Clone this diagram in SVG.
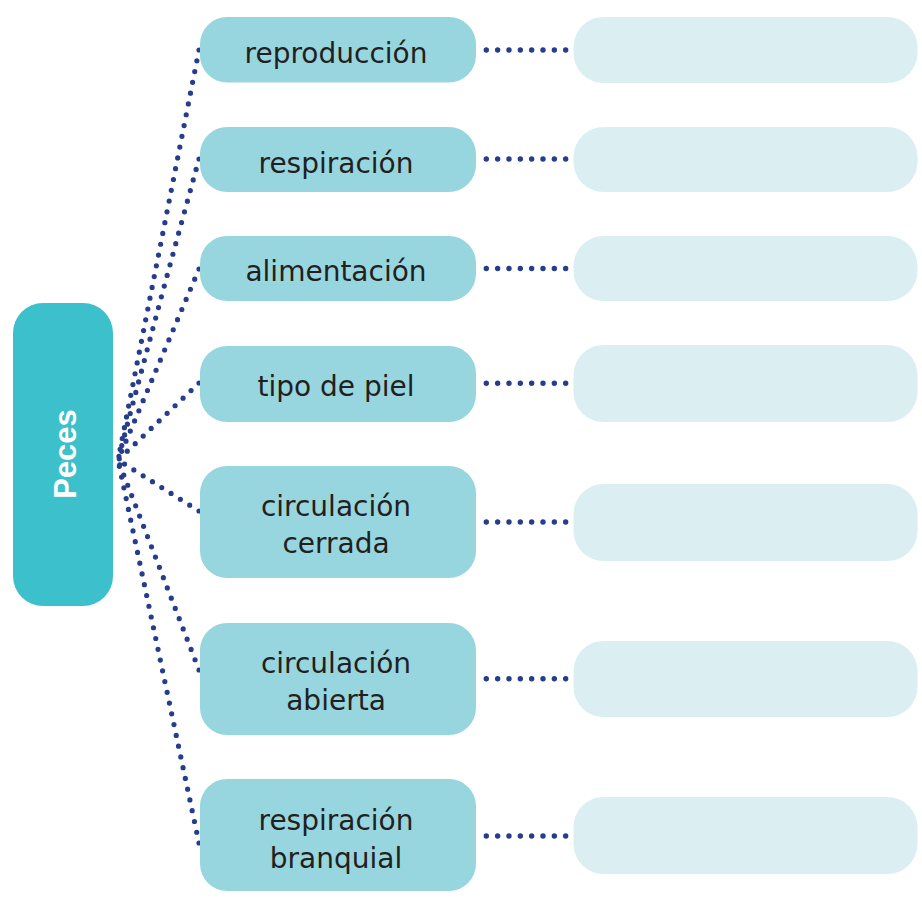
<svg xmlns="http://www.w3.org/2000/svg" width="922" height="898" viewBox="0 0 922 898">
<style>
.mid{fill:#97d6df}
.ans{fill:#dbeff2}
.main{fill:#3cc0cc}
.lbl{font-family:"DejaVu Sans","Liberation Sans",sans-serif;font-size:28px;fill:#231f20;text-anchor:middle}
.title{font-family:"Liberation Sans","Arial",sans-serif;font-size:31px;font-weight:bold;fill:#ffffff;text-anchor:middle}
.dot{fill:none;stroke:#263d8e;stroke-width:5.2;stroke-linecap:round;stroke-dasharray:0 11}
.hdot{fill:none;stroke:#263d8e;stroke-width:5.4;stroke-linecap:round;stroke-dasharray:0 11.34}
</style>
<rect width="922" height="898" fill="#ffffff"/>
<g id="connectors">
<path class="dot" d="M199,50 L118,460"/>
<path class="dot" d="M199,159 Q160,300 118,460"/>
<path class="dot" d="M199,269 L118,460"/>
<path class="dot" d="M199,383 L118,460"/>
<path class="dot" d="M199,511 L118,460"/>
<path class="dot" d="M199,670 L118,460"/>
<path class="dot" d="M199,843 L118,460"/>
<path class="hdot" d="M486.3,50 H565.7"/>
<path class="hdot" d="M486.3,159 H565.7"/>
<path class="hdot" d="M486.3,268.5 H565.7"/>
<path class="hdot" d="M486.3,383.3 H565.7"/>
<path class="hdot" d="M486.3,522 H565.7"/>
<path class="hdot" d="M486.3,678.7 H565.7"/>
<path class="hdot" d="M486.3,836 H565.7"/>
</g>
<g id="peces">
<rect class="main" x="13" y="303" width="100" height="303" rx="30"/>
<text class="title" x="76" y="454" transform="rotate(-90 76 454)">Peces</text>
</g>
<g id="n-reproduccion">
<rect class="mid" x="200" y="17" width="276" height="65.5" rx="27"/>
<text class="lbl" x="336" y="63">reproducción</text>
</g>
<g id="n-respiracion">
<rect class="mid" x="200" y="127" width="276" height="65" rx="27"/>
<text class="lbl" x="336" y="172.5">respiración</text>
</g>
<g id="n-alimentacion">
<rect class="mid" x="200" y="236" width="276" height="65" rx="27"/>
<text class="lbl" x="336" y="281">alimentación</text>
</g>
<g id="n-tipo-piel">
<rect class="mid" x="200" y="346" width="276" height="76" rx="27"/>
<text class="lbl" x="336" y="396">tipo de piel</text>
</g>
<g id="n-circ-cerrada">
<rect class="mid" x="200" y="466" width="276" height="112" rx="27"/>
<text class="lbl" x="336" y="516">circulación</text>
<text class="lbl" x="336" y="553">cerrada</text>
</g>
<g id="n-circ-abierta">
<rect class="mid" x="200" y="623" width="276" height="112" rx="27"/>
<text class="lbl" x="336" y="673">circulación</text>
<text class="lbl" x="336" y="710">abierta</text>
</g>
<g id="n-resp-branquial">
<rect class="mid" x="200" y="779" width="276" height="112" rx="27"/>
<text class="lbl" x="336" y="829.5">respiración</text>
<text class="lbl" x="336" y="867.5">branquial</text>
</g>
<g id="a-reproduccion"><rect class="ans" x="573.5" y="17" width="344" height="66" rx="30"/></g>
<g id="a-respiracion"><rect class="ans" x="573.5" y="127" width="344" height="65" rx="30"/></g>
<g id="a-alimentacion"><rect class="ans" x="573.5" y="236" width="344" height="65" rx="30"/></g>
<g id="a-tipo-piel"><rect class="ans" x="573.5" y="345" width="344" height="77" rx="30"/></g>
<g id="a-circ-cerrada"><rect class="ans" x="573.5" y="484" width="344" height="77" rx="30"/></g>
<g id="a-circ-abierta"><rect class="ans" x="573.5" y="641" width="344" height="76" rx="30"/></g>
<g id="a-resp-branquial"><rect class="ans" x="573.5" y="797" width="344" height="77" rx="30"/></g>
</svg>
